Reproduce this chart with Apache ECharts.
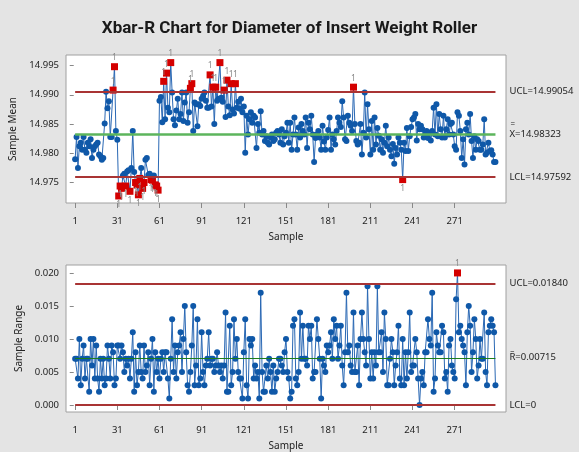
<!DOCTYPE html>
<html>
<head>
<meta charset="utf-8">
<script src="https://cdn.jsdelivr.net/npm/echarts@6/dist/echarts.min.js"></script>
<style>
  html, body { margin: 0; padding: 0; background: #e4e4e4; }
  #chart { width: 579px; height: 452px; }
</style>
</head>
<body>
<div id="chart"></div>
<script>
// subgroup means (n = 3), samples 1..300
const meanValues = [
  14.9790, 14.9828, 14.9775, 14.9812, 14.9818, 14.9806, 14.9828, 14.9806, 14.9801, 14.9818,
  14.9812, 14.9824, 14.9792, 14.9806, 14.9812, 14.9815, 14.9818, 14.9798, 14.9795, 14.9789,
  14.9792, 14.9851, 14.9905, 14.9877, 14.9889, 14.9828, 14.9828, 14.9908, 14.9948, 14.9838,
  14.9823, 14.9727, 14.9744, 14.9740, 14.9762, 14.9765, 14.9744, 14.9769, 14.9771, 14.9735,
  14.9775, 14.9838, 14.9768, 14.9750, 14.9746, 14.9729, 14.9757, 14.9775, 14.9740, 14.9750,
  14.9789, 14.9792, 14.9763, 14.9765, 14.9755, 14.9754, 14.9762, 14.9746, 14.9744, 14.9737,
  14.9890, 14.9896, 14.9853, 14.9923, 14.9858, 14.9937, 14.9878, 14.9870, 14.9955, 14.9904,
  14.9858, 14.9848, 14.9873, 14.9893, 14.9858, 14.9867, 14.9904, 14.9855, 14.9887, 14.9904,
  14.9852, 14.9870, 14.9911, 14.9919, 14.9838, 14.9887, 14.9884, 14.9846, 14.9884, 14.9881,
  14.9893, 14.9898, 14.9904, 14.9890, 14.9878, 14.9878, 14.9934, 14.9880, 14.9913, 14.9850,
  14.9913, 14.9890, 14.9893, 14.9955, 14.9895, 14.9888, 14.9908, 14.9862, 14.9925, 14.9880,
  14.9865, 14.9919, 14.9875, 14.9868, 14.9919, 14.9878, 14.9888, 14.9876, 14.9893, 14.9870,
  14.9880, 14.9801, 14.9864, 14.9832, 14.9858, 14.9870, 14.9852, 14.9864, 14.9861, 14.9809,
  14.9850, 14.9835, 14.9872, 14.9832, 14.9838, 14.9821, 14.9829, 14.9818, 14.9815, 14.9827,
  14.9832, 14.9821, 14.9824, 14.9835, 14.9838, 14.9832, 14.9818, 14.9841, 14.9815, 14.9829,
  14.9835, 14.9852, 14.9818, 14.9852, 14.9806, 14.9832, 14.9861, 14.9832, 14.9806, 14.9844,
  14.9827, 14.9850, 14.9838, 14.9832, 14.9861, 14.9809, 14.9852, 14.9841, 14.9864, 14.9832,
  14.9785, 14.9826, 14.9832, 14.9838, 14.9827, 14.9806, 14.9847, 14.9820, 14.9806, 14.9827,
  14.9840, 14.9861, 14.9806, 14.9832, 14.9824, 14.9815, 14.9838, 14.9861, 14.9852, 14.9845,
  14.9889, 14.9861, 14.9824, 14.9821, 14.9864, 14.9852, 14.9847, 14.9838, 14.9913, 14.9850,
  14.9821, 14.9815, 14.9818, 14.9850, 14.9798, 14.9835, 14.9904, 14.9827, 14.9884, 14.9841,
  14.9798, 14.9855, 14.9806, 14.9861, 14.9815, 14.9843, 14.9830, 14.9806, 14.9824, 14.9801,
  14.9818, 14.9847, 14.9812, 14.9827, 14.9806, 14.9795, 14.9816, 14.9782, 14.9809, 14.9798,
  14.9827, 14.9818, 14.9806, 14.9755, 14.9818, 14.9804, 14.9843, 14.9804, 14.9829, 14.9845,
  14.9858, 14.9861, 14.9867, 14.9822, 14.9850, 14.9841, 14.9847, 14.9841, 14.9827, 14.9832,
  14.9838, 14.9826, 14.9835, 14.9822, 14.9838, 14.9878, 14.9832, 14.9884, 14.9829, 14.9867,
  14.9841, 14.9827, 14.9864, 14.9827, 14.9841, 14.9858, 14.9832, 14.9850, 14.9852, 14.9832,
  14.9812, 14.9806, 14.9870, 14.9864, 14.9838, 14.9792, 14.9824, 14.9781, 14.9841, 14.9852,
  14.9832, 14.9867, 14.9821, 14.9792, 14.9829, 14.9806, 14.9824, 14.9821, 14.9806, 14.9806,
  14.9815, 14.9858, 14.9798, 14.9801, 14.9818, 14.9804, 14.9805, 14.9798, 14.9785, 14.9785
];

// subgroup ranges, samples 1..300
const rangeValues = [
  0.007, 0.007, 0.004, 0.010, 0.003, 0.007, 0.009, 0.004, 0.007, 0.007,
  0.002, 0.010, 0.006, 0.010, 0.004, 0.009, 0.004, 0.002, 0.007, 0.004,
  0.007, 0.003, 0.004, 0.009, 0.007, 0.004, 0.009, 0.008, 0.003, 0.004,
  0.009, 0.009, 0.007, 0.009, 0.008, 0.005, 0.007, 0.006, 0.007, 0.004,
  0.007, 0.011, 0.002, 0.008, 0.003, 0.005, 0.009, 0.005, 0.004, 0.009,
  0.005, 0.006, 0.008, 0.003, 0.007, 0.010, 0.002, 0.008, 0.005, 0.007,
  0.004, 0.007, 0.008, 0.005, 0.008, 0.008, 0.004, 0.001, 0.007, 0.013,
  0.005, 0.009, 0.004, 0.008, 0.009, 0.011, 0.005, 0.010, 0.015, 0.008,
  0.003, 0.002, 0.005, 0.009, 0.015, 0.003, 0.006, 0.013, 0.003, 0.004,
  0.011, 0.005, 0.003, 0.006, 0.007, 0.011, 0.006, 0.007, 0.007, 0.005,
  0.006, 0.008, 0.006, 0.005, 0.006, 0.004, 0.006, 0.014, 0.002, 0.002,
  0.012, 0.003, 0.005, 0.013, 0.007, 0.010, 0.005, 0.004, 0.004, 0.001,
  0.008, 0.013, 0.003, 0.001, 0.010, 0.009, 0.010, 0.004, 0.006, 0.004,
  0.005, 0.001, 0.017, 0.005, 0.002, 0.002, 0.006, 0.004, 0.007, 0.005,
  0.002, 0.006, 0.002, 0.004, 0.005, 0.007, 0.007, 0.006, 0.005, 0.008,
  0.010, 0.005, 0.004, 0.001, 0.002, 0.012, 0.013, 0.004, 0.003, 0.005,
  0.014, 0.007, 0.012, 0.007, 0.007, 0.006, 0.012, 0.010, 0.012, 0.004,
  0.005, 0.005, 0.013, 0.010, 0.007, 0.001, 0.007, 0.006, 0.005, 0.009,
  0.008, 0.009, 0.011, 0.007, 0.013, 0.010, 0.012, 0.007, 0.009, 0.012,
  0.006, 0.003, 0.008, 0.017, 0.008, 0.009, 0.006, 0.005, 0.014, 0.005,
  0.005, 0.009, 0.003, 0.010, 0.014, 0.010, 0.008, 0.006, 0.018, 0.010,
  0.004, 0.008, 0.004, 0.008, 0.006, 0.018, 0.008, 0.008, 0.011, 0.005,
  0.014, 0.010, 0.003, 0.003, 0.007, 0.010, 0.008, 0.003, 0.006, 0.008,
  0.012, 0.004, 0.003, 0.010, 0.003, 0.008, 0.004, 0.008, 0.014, 0.005,
  0.006, 0.006, 0.010, 0.008, 0.004, 0.000, 0.004, 0.005, 0.003, 0.008,
  0.008, 0.013, 0.010, 0.009, 0.017, 0.002, 0.004, 0.011, 0.009, 0.008,
  0.008, 0.012, 0.011, 0.004, 0.005, 0.002, 0.009, 0.010, 0.006, 0.005,
  0.004, 0.016, 0.020, 0.011, 0.012, 0.010, 0.009, 0.008, 0.003, 0.011,
  0.015, 0.012, 0.005, 0.008, 0.013, 0.010, 0.004, 0.006, 0.010, 0.007,
  0.007, 0.014, 0.005, 0.003, 0.011, 0.012, 0.013, 0.012, 0.011, 0.003
];

const sampleTicks = [1, 31, 61, 91, 121, 151, 181, 211, 241, 271];
const meanTicks = [14.975, 14.980, 14.985, 14.990, 14.995];
const rangeTicks = [0, 0.005, 0.010, 0.015, 0.020];

// control limits: UCL, centre, LCL
const meanLimits = [14.99054, 14.98323, 14.97592];
const rangeLimits = [0.01840, 0.00715, 0];
// centre labels get a bar drawn over the first letter (X double bar, R bar)
const meanLimitText = ['UCL=14.99054', '{bar|=}\n{t|X=14.98323}\n{bar| }', 'LCL=14.97592'];
const rangeLimitText = ['UCL=0.01840', '{bar|_}\n{t|R=0.00715}\n{bar| }', 'LCL=0'];

const FONT = 'Noto Sans';
const BLUE = '#0f58a8';
const RED = '#d40000';
const LIMIT_RED = '#a93434';

function points (values, limits) {
  return values.map((v, i) => {
    const high = v > limits[0];
    const low = v < limits[2];
    if (!high && !low) return [i + 1, v];
    return {
      value: [i + 1, v],
      symbol: 'rect',
      symbolSize: 7,
      itemStyle: { color: RED },
      label: {
        show: true,
        formatter: '1',
        position: high ? 'top' : 'bottom',
        distance: 1,
        color: '#8a8a8a',
        fontSize: 8.5,
        fontFamily: FONT
      }
    };
  });
}

function limitLines (limits, texts, n, centre) {
  const colors = [LIMIT_RED, centre.color, LIMIT_RED];
  const widths = [2, centre.width, 2];
  return {
    silent: true,
    symbol: 'none',
    label: {
      position: 'end',
      distance: 14,
      color: '#222',
      fontSize: 9.5,
      fontFamily: FONT,
      rich: {
        bar: { fontSize: 8, lineHeight: 7, color: '#222', fontFamily: FONT, padding: [0, 0, 0, 1] },
        t: { fontSize: 9.5, lineHeight: 13, color: '#222', fontFamily: FONT }
      }
    },
    data: limits.map((y, k) => [
      {
        coord: [1, y],
        lineStyle: { color: colors[k], width: widths[k], type: 'solid' },
        label: { formatter: texts[k] }
      },
      { coord: [n, y] }
    ])
  };
}

function xAxisFor (gridIndex) {
  return {
    type: 'value',
    gridIndex: gridIndex,
    min: -5.5,
    max: 307.5,
    name: 'Sample',
    nameLocation: 'middle',
    nameGap: 29,
    nameTextStyle: { color: '#222', fontSize: 10, fontFamily: FONT },
    axisLine: { show: false },
    splitLine: { show: false },
    axisTick: { show: true, customValues: sampleTicks, length: 5, lineStyle: { color: '#888' } },
    axisLabel: { customValues: sampleTicks, color: '#222', fontSize: 9.5, fontFamily: FONT, margin: 13 }
  };
}

function yAxisFor (gridIndex, name, gap, min, max, ticks) {
  return {
    type: 'value',
    gridIndex: gridIndex,
    min: min,
    max: max,
    name: name,
    nameLocation: 'middle',
    nameGap: gap,
    nameTextStyle: { color: '#222', fontSize: 10, fontFamily: FONT },
    axisLine: { show: false },
    splitLine: { show: false },
    axisTick: { show: true, customValues: ticks, length: 4, lineStyle: { color: '#888' } },
    axisLabel: {
      customValues: ticks,
      color: '#222',
      fontSize: 9.5,
      fontFamily: FONT,
      margin: 7,
      formatter: v => v.toFixed(3)
    }
  };
}

const chart = echarts.init(document.getElementById('chart'))

const options = {
  backgroundColor: '#e4e4e4',
  animation: false,
  title: {
    text: 'Xbar-R Chart for Diameter of Insert Weight Roller',
    left: 'center',
    top: 15,
    textStyle: { color: '#1a1a1a', fontSize: 17, fontWeight: 'bold', fontFamily: 'Roboto' }
  },
  grid: [
    { left: 66, top: 55, width: 440, height: 148, show: true, backgroundColor: '#fff', borderColor: '#a0a0a0', borderWidth: 1 },
    { left: 66, top: 265, width: 440, height: 147, show: true, backgroundColor: '#fff', borderColor: '#a0a0a0', borderWidth: 1 }
  ],
  xAxis: [xAxisFor(0), xAxisFor(1)],
  yAxis: [
    yAxisFor(0, 'Sample Mean', 40, 14.9715, 14.9968, meanTicks),
    yAxisFor(1, 'Sample Range', 33, -0.00106, 0.0212, rangeTicks)
  ],
  series: [
    {
      type: 'line',
      xAxisIndex: 0,
      yAxisIndex: 0,
      data: points(meanValues, meanLimits),
      symbol: 'circle',
      symbolSize: 6,
      itemStyle: { color: BLUE },
      lineStyle: { color: '#2a68b4', width: 1 },
      markLine: limitLines(meanLimits, meanLimitText, meanValues.length, { color: '#5cb55c', width: 2.5 }),
      z: 3
    },
    {
      type: 'line',
      xAxisIndex: 1,
      yAxisIndex: 1,
      data: points(rangeValues, rangeLimits),
      symbol: 'circle',
      symbolSize: 6,
      itemStyle: { color: BLUE },
      lineStyle: { color: '#2a68b4', width: 1 },
      markLine: limitLines(rangeLimits, rangeLimitText, rangeValues.length, { color: '#1b7d1b', width: 1 }),
      z: 3
    }
  ]
}

chart.setOption(options)
</script>
</body>
</html>
